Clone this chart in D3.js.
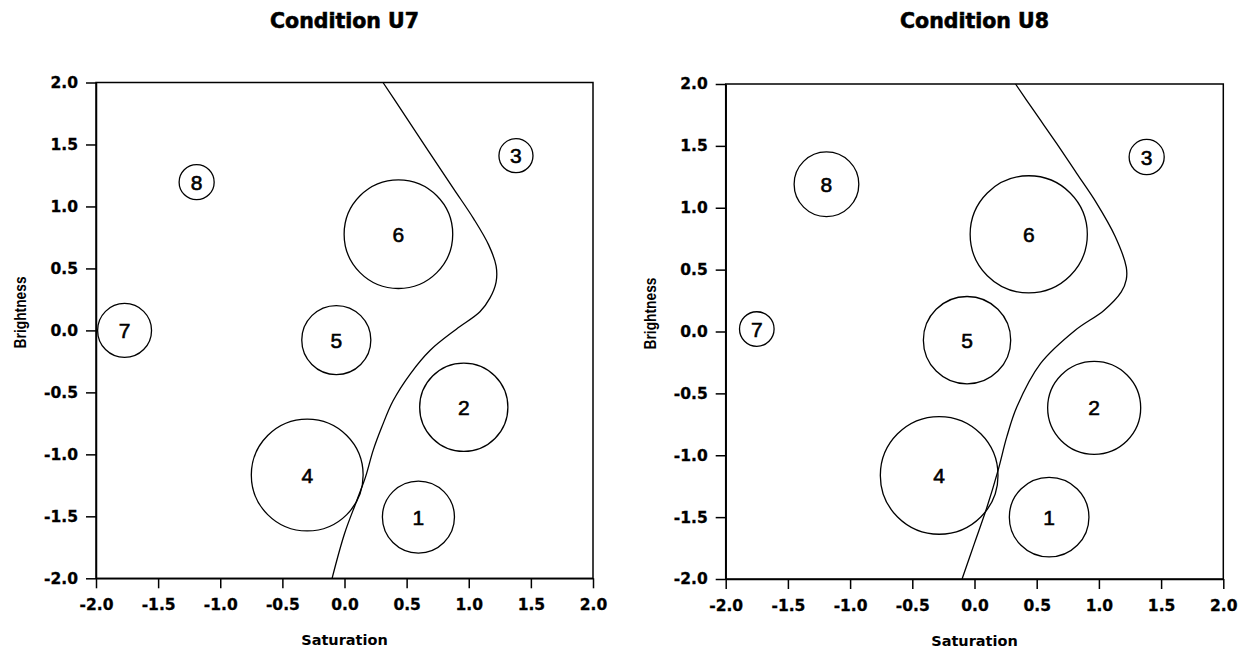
<!DOCTYPE html>
<html>
<head>
<meta charset="utf-8">
<script src="https://cdn.jsdelivr.net/npm/d3@7"></script>
<style>
  body { margin: 0; background: #fff; }
  svg { display: block; }
</style>
</head>
<body>
<svg id="chart" width="1245" height="656"></svg>
<script>

// stimulus labels (same for both conditions)
var stimuli = ["1", "2", "3", "4", "5", "6", "7", "8"];

// Condition U7
var u7Sat    = [0.595, 0.96, 1.38, -0.30, -0.066, 0.434, -1.77, -1.19];
var u7Bright = [-1.506, -0.62, 1.41, -1.167, -0.078, 0.776, 0.0, 1.196];
var u7Size   = [0.29, 0.355, 0.137, 0.45, 0.278, 0.437, 0.217, 0.141];

var u7BoundX = [0.31, 0.45, 0.68, 0.88, 1.04, 1.16, 1.22, 1.22, 1.17, 1.09, 0.90, 0.69, 0.53, 0.39, 0.30, 0.23, 0.17, 0.10, 0.00, -0.10];
var u7BoundY = [2.0, 1.79, 1.44, 1.14, 0.90, 0.69, 0.52, 0.39, 0.26, 0.15, 0.01, -0.16, -0.35, -0.57, -0.78, -0.97, -1.18, -1.37, -1.64, -2.0];

// Condition U8
var u8Sat    = [0.60, 0.962, 1.384, -0.284, -0.06, 0.436, -1.75, -1.19];
var u8Bright = [-1.5, -0.617, 1.41, -1.163, -0.07, 0.785, 0.02, 1.19];
var u8Size   = [0.32, 0.374, 0.141, 0.473, 0.351, 0.471, 0.139, 0.26];

var u8BoundX = [0.33, 0.48, 0.66, 0.82, 0.98, 1.13, 1.22, 1.22, 1.18, 1.04, 0.81, 0.53, 0.34, 0.26, 0.19, 0.10, 0.00, -0.10];
var u8BoundY = [2.0, 1.78, 1.52, 1.28, 1.04, 0.77, 0.52, 0.42, 0.32, 0.17, 0.01, -0.26, -0.61, -0.85, -1.12, -1.42, -1.71, -2.0];

// axis ticks
var tickValues = [-2.0, -1.5, -1.0, -0.5, 0.0, 0.5, 1.0, 1.5, 2.0];

var svg = d3.select("#chart");


function drawPanel(opt) {

  var x = d3.scaleLinear().domain([-2, 2]).range([opt.left, opt.right]);
  var y = d3.scaleLinear().domain([-2, 2]).range([opt.bottom, opt.top]);
  // radius uses the saturation scale
  var r = d3.scaleLinear().domain([0, 4]).range([0, opt.right - opt.left]);

  var g = svg.append("g");

  // title
  var title = g.append("text");
  title.attr("x", (opt.left + opt.right) / 2);
  title.attr("y", 28);
  title.attr("text-anchor", "middle");
  title.attr("font-family", "DejaVu Sans");
  title.attr("font-weight", "bold");
  title.attr("font-size", "20.5px");
  title.attr("stroke", "#000");
  title.attr("stroke-width", 0.6);
  title.text(opt.title);

  // axes
  var xAxis = g.append("g")
    .attr("transform", "translate(0," + opt.bottom + ")")
    .call(d3.axisBottom(x).tickValues(tickValues).tickSize(10).tickSizeOuter(0).tickPadding(11)
      .tickFormat(function (d) { return d.toFixed(1); }));

  var yAxis = g.append("g")
    .attr("transform", "translate(" + opt.left + ",0)")
    .call(d3.axisLeft(y).tickValues(tickValues).tickSize(10).tickSizeOuter(0).tickPadding(8)
      .tickFormat(function (d) { return d.toFixed(1); }));

  [xAxis, yAxis].forEach(function (a) {
    a.selectAll("path, line").attr("stroke", "#000").attr("stroke-width", 1.5);
    a.selectAll("text")
      .attr("fill", "#000")
      .attr("stroke", "#000")
      .attr("stroke-width", 0.3)
      .attr("font-family", "DejaVu Sans")
      .attr("font-weight", "bold")
      .attr("font-size", "15.5px");
  });

  // frame
  var frame = g.append("rect");
  frame.attr("x", opt.left);
  frame.attr("y", opt.top);
  frame.attr("width", opt.right - opt.left);
  frame.attr("height", opt.bottom - opt.top);
  frame.attr("fill", "none");
  frame.attr("stroke", "#000");
  frame.attr("stroke-width", 1.5);

  // axis titles
  var xt = g.append("text");
  xt.attr("x", (opt.left + opt.right) / 2);
  xt.attr("y", opt.bottom + 67);
  xt.attr("text-anchor", "middle");
  xt.attr("font-family", "DejaVu Sans");
  xt.attr("font-weight", "bold");
  xt.attr("font-size", "14.5px");
  xt.text("Saturation");

  var yt = g.append("text");
  yt.attr("transform", "translate(" + (opt.left - 70) + "," + (y(0) - 18) + ") rotate(-90) scale(1,1.2)");
  yt.attr("text-anchor", "middle");
  yt.attr("font-family", "Liberation Sans");
  yt.attr("font-weight", "bold");
  yt.attr("font-size", "13.8px");
  yt.text("Brightness");

  // decision boundary
  var pts = opt.bx.map(function (v, i) { return [v, opt.by[i]]; });
  var line = d3.line()
    .x(function (d) { return x(d[0]); })
    .y(function (d) { return y(d[1]); })
    .curve(d3.curveCatmullRom.alpha(0.5));

  g.append("path")
    .attr("d", line(pts))
    .attr("fill", "none")
    .attr("stroke", "#000")
    .attr("stroke-width", 1.3);

  // stimulus circles
  for (var i = 0; i < stimuli.length; i += 1) {

    var circle = g.append("circle");
    circle.attr("cx", x(opt.sx[i]));
    circle.attr("cy", y(opt.sy[i]));
    circle.attr("r", r(opt.size[i]));
    circle.attr("fill", "none");
    circle.attr("stroke", "#000");
    circle.attr("stroke-width", 1.3);

    var label = g.append("text");
    label.attr("x", x(opt.sx[i]));
    label.attr("y", y(opt.sy[i]));
    label.attr("dy", "0.36em");
    label.attr("text-anchor", "middle");
    label.attr("font-family", "Liberation Sans");
    label.attr("font-size", "21px");
    label.attr("stroke", "#000");
    label.attr("stroke-width", 0.6);
    label.text(stimuli[i]);
  }
}


drawPanel({
  title: "Condition U7",
  left: 96, right: 593, top: 82.5, bottom: 578.3,
  sx: u7Sat, sy: u7Bright, size: u7Size,
  bx: u7BoundX, by: u7BoundY
});

drawPanel({
  title: "Condition U8",
  left: 725.7, right: 1223.3, top: 84, bottom: 579,
  sx: u8Sat, sy: u8Bright, size: u8Size,
  bx: u8BoundX, by: u8BoundY
});

</script>
</body>
</html>
